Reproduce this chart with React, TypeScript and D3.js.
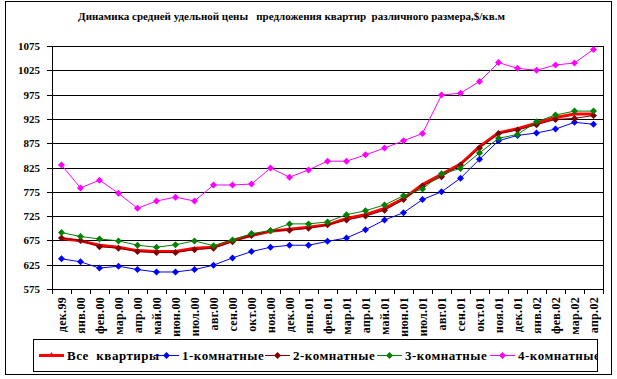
import React from "react";
import * as d3 from "d3";

const categories = ["дек.99","янв.00","фев.00","мар.00","апр.00","май.00","июн.00","июл.00","авг.00","сен.00","окт.00","ноя.00","дек.00","янв.01","фев.01","мар.01","апр.01","май.01","июн.01","июл.01","авг.01","сен.01","окт.01","ноя.01","дек.01","янв.02","фев.02","мар.02","апр.02"];

const allFlats = [679,674,665,661,654,652,652,659,661,675,685,694,698,702,707,720,728,741,761,790,811,832,868,896,905,916,928,935,935];
const oneRoom = [637,631,618,622,615,610,610,615,624,639,652,661,665,665,673,680,697,717,732,759,775,803,842,880,891,896,904,918,914];
const twoRoom = [680,675,662,659,652,650,650,656,659,672,685,695,696,700,707,717,725,737,759,787,806,830,865,895,902,913,924,926,932];
const threeRoom = [691,683,678,674,665,661,666,674,664,676,689,695,709,709,713,728,736,748,767,781,812,823,855,885,893,919,933,941,941];
const fourRoom = [830,783,799,772,741,756,764,756,789,789,791,824,805,820,838,838,851,865,880,895,974,978,1002,1041,1029,1025,1036,1040,1068];

const yTicks = [575,625,675,725,775,825,875,925,975,1025,1075];
const seriesNames = ["Все  квартиры","1-комнатные","2-комнатные","3-комнатные","4-комнатные"];
const seriesColors = ["#FF0000","#0000FF","#800000","#008000","#FF00FF"];
const title = "Динамика средней удельной цены   предложения квартир  различного размера,$/кв.м";

const W = 617, H = 379;
const plot = { left: 52, right: 603, top: 46, bottom: 289 };
const legendX = [39, 154, 265, 377, 490];
const FONT = "Liberation Serif, DejaVu Serif, serif";

function diamond(cx: number, cy: number, r: number) {
  return `M${cx},${cy - r}L${cx + r},${cy}L${cx},${cy + r}L${cx - r},${cy}Z`;
}

export default function App() {
  const series = [allFlats, oneRoom, twoRoom, threeRoom, fourRoom];
  const x = d3.scalePoint<string>().domain(categories).range([plot.left, plot.right]).padding(0.5);
  const band = d3.scaleBand<string>().domain(categories).range([plot.left, plot.right]);
  const y = d3.scaleLinear().domain([575, 1075]).range([plot.bottom, plot.top]);
  const line = d3.line<number>().x((_, i) => x(categories[i])!).y(d => y(d));
  const txt = { fontFamily: FONT, fontWeight: 700, whiteSpace: "pre" as const };

  return (
    <svg width={W} height={H} style={{ position: "absolute", left: 0, top: 0, background: "#fff", fontFamily: FONT }}>
      <defs>
        <clipPath id="legclip"><rect x={33} y={339} width={564} height={33} /></clipPath>
      </defs>
      <rect x={5.5} y={1.5} width={606} height={373} fill="#fff" stroke="#000" strokeWidth={1} />
      <text x={291.5} y={20} textAnchor="middle" fontSize={11} style={txt}>{title}</text>

      {yTicks.map(t => (
        <g key={t}>
          <line x1={plot.left} x2={plot.right} y1={Math.round(y(t)) + 0.5} y2={Math.round(y(t)) + 0.5} stroke="#000" />
          <line x1={plot.left - 5} x2={plot.left} y1={Math.round(y(t)) + 0.5} y2={Math.round(y(t)) + 0.5} stroke="#000" />
          <text x={40} y={y(t) + 4} textAnchor="end" fontSize={11} style={txt}>{t}</text>
        </g>
      ))}
      <line x1={plot.left + 0.5} x2={plot.left + 0.5} y1={plot.top} y2={plot.bottom} stroke="#000" />
      <line x1={plot.right + 0.5} x2={plot.right + 0.5} y1={plot.top} y2={plot.bottom + 0.5} stroke="#000" />
      {categories.map(c => (
        <line key={"t" + c} x1={Math.round(band(c)!) + 0.5} x2={Math.round(band(c)!) + 0.5} y1={plot.bottom} y2={plot.bottom + 5} stroke="#000" />
      ))}
      <line x1={plot.right + 0.5} x2={plot.right + 0.5} y1={plot.bottom} y2={plot.bottom + 5} stroke="#000" />
      {categories.map(c => (
        <text key={"l" + c} transform={`translate(${x(c)! + 4},${plot.bottom + 8}) rotate(-90)`} textAnchor="end" fontSize={12} style={txt} letterSpacing={0.3}>{c}</text>
      ))}

      {series.map((s, k) => (
        <g key={"s" + k}>
          <path d={line(s)!} fill="none" stroke={seriesColors[k]} strokeWidth={k === 0 ? 3 : 1} />
          {k > 0 && s.map((v, i) => (
            <path key={i} d={diamond(x(categories[i])!, y(v), 3.5)} fill={seriesColors[k]} />
          ))}
        </g>
      ))}

      <rect x={33.5} y={339.5} width={564} height={32} fill="#fff" stroke="#000" />
      <g clipPath="url(#legclip)">
        {seriesNames.map((n, k) => (
          <g key={"lg" + k}>
            <line x1={legendX[k]} x2={legendX[k] + 25} y1={355.5} y2={355.5} stroke={seriesColors[k]} strokeWidth={k === 0 ? 3 : 1} />
            {k === 0
              ? <path d={`M${legendX[k] + 10},356L${legendX[k] + 12.5},352L${legendX[k] + 15},356Z`} fill={seriesColors[k]} />
              : <path d={diamond(legendX[k] + 12.5, 355.5, 3.5)} fill={seriesColors[k]} />}
            <text x={legendX[k] + 28} y={360} fontSize={13} style={txt} letterSpacing={0.5}>{n}</text>
          </g>
        ))}
      </g>
    </svg>
  );
}
